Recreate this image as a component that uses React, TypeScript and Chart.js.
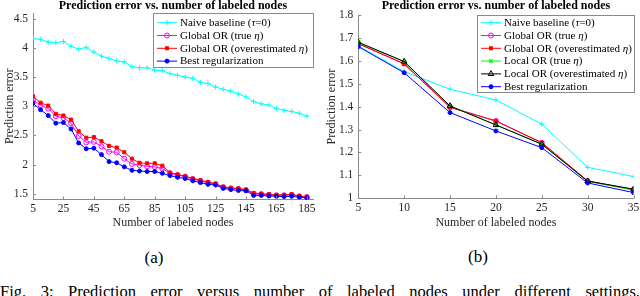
import React, { useEffect, useRef } from "react";
import { Chart, registerables } from "chart.js";
import { drawPoint } from "chart.js/helpers";

Chart.register(...registerables);

const FONT = '"Liberation Serif", "Times New Roman", serif';
const TITLE = "Prediction error vs. number of labeled nodes";
const X_TITLE = "Number of labeled nodes";
const Y_TITLE = "Prediction error";
const CAPTION = "Fig. 3: Prediction error versus number of labeled nodes under different settings.";

const LABEL_NAIVE = "Naive baseline (τ=0)";
const LABEL_GLOBAL_TRUE = "Global OR (true η)";
const LABEL_GLOBAL_OVER = "Global OR (overestimated η)";
const LABEL_LOCAL_TRUE = "Local OR (true η)";
const LABEL_LOCAL_OVER = "Local OR (overestimated η)";
const LABEL_BEST = "Best regularization";

// ---------- panel (a) ----------
const NODES_A = [5, 10, 15, 20, 25, 30, 35, 40, 45, 50, 55, 60, 65, 70, 75, 80, 85, 90, 95, 100, 105, 110, 115, 120, 125, 130, 135, 140, 145, 150, 155, 160, 165, 170, 175, 180, 185];
const NAIVE_A = [4.16, 4.15, 4.10, 4.09, 4.11, 4.03, 3.98, 4.01, 3.93, 3.86, 3.82, 3.78, 3.76, 3.68, 3.66, 3.66, 3.62, 3.61, 3.56, 3.53, 3.50, 3.48, 3.41, 3.39, 3.33, 3.29, 3.26, 3.21, 3.16, 3.08, 3.04, 3.02, 2.96, 2.93, 2.91, 2.88, 2.83];
const GLOBAL_TRUE_A = [3.11, 3.02, 2.96, 2.83, 2.80, 2.71, 2.49, 2.38, 2.39, 2.31, 2.22, 2.21, 2.10, 2.01, 1.99, 1.97, 1.96, 1.93, 1.85, 1.82, 1.79, 1.75, 1.72, 1.69, 1.665, 1.61, 1.59, 1.58, 1.56, 1.50, 1.49, 1.48, 1.47, 1.47, 1.48, 1.455, 1.44];
const GLOBAL_OVER_A = [3.17, 3.06, 3.01, 2.87, 2.84, 2.77, 2.57, 2.46, 2.47, 2.40, 2.32, 2.29, 2.21, 2.10, 2.03, 2.02, 2.02, 1.98, 1.86, 1.83, 1.80, 1.76, 1.73, 1.70, 1.67, 1.62, 1.60, 1.59, 1.57, 1.51, 1.50, 1.49, 1.48, 1.48, 1.49, 1.46, 1.45];
const BEST_A = [3.05, 2.94, 2.84, 2.71, 2.72, 2.61, 2.37, 2.27, 2.28, 2.17, 2.05, 2.03, 1.96, 1.90, 1.89, 1.88, 1.88, 1.85, 1.81, 1.78, 1.76, 1.72, 1.69, 1.66, 1.65, 1.59, 1.57, 1.555, 1.55, 1.47, 1.47, 1.46, 1.455, 1.45, 1.455, 1.44, 1.425];
const X_TICKS_A = [5, 25, 45, 65, 85, 105, 125, 145, 165, 185];
const Y_TICKS_A = [1.5, 2, 2.5, 3, 3.5, 4, 4.5];
const Y_TICK_LABELS_A = ["1.5", "2", "2.5", "3", "3.5", "4", "4.5"];

// ---------- panel (b) ----------
const NODES_B = [5, 10, 15, 20, 25, 30, 35];
const NAIVE_B = [1.665, 1.553, 1.476, 1.429, 1.324, 1.135, 1.095];
const GLOBAL_TRUE_B = [1.675, 1.588, 1.398, 1.337, 1.242, 1.075, 1.037];
const GLOBAL_OVER_B = [1.675, 1.586, 1.397, 1.338, 1.243, 1.076, 1.038];
const LOCAL_TRUE_B = [1.68, 1.596, 1.403, 1.321, 1.237, 1.074, 1.036];
const LOCAL_OVER_B = [1.681, 1.597, 1.403, 1.32, 1.236, 1.075, 1.04];
const BEST_B = [1.662, 1.548, 1.374, 1.294, 1.221, 1.067, 1.025];
const X_TICKS_B = [5, 10, 15, 20, 25, 30, 35];
const Y_TICKS_B = [1, 1.1, 1.2, 1.3, 1.4, 1.5, 1.6, 1.7, 1.8];
const Y_TICK_LABELS_B = ["1", "1.1", "1.2", "1.3", "1.4", "1.5", "1.6", "1.7", "1.8"];

// ---------- styles ----------
type St = { color: string; pointStyle: string; radius: number; filled: boolean };
const ST_NAIVE: St = { color: "#00ffff", pointStyle: "cross", radius: 2.6, filled: false };
const ST_GLOBAL_TRUE: St = { color: "#ff00ff", pointStyle: "circle", radius: 2.5, filled: false };
const ST_GLOBAL_OVER: St = { color: "#ff0000", pointStyle: "rect", radius: 2.2, filled: true };
const ST_LOCAL_TRUE: St = { color: "#00ff00", pointStyle: "star", radius: 2.6, filled: false };
const ST_LOCAL_OVER: St = { color: "#000000", pointStyle: "triangle", radius: 3.2, filled: false };
const ST_BEST: St = { color: "#0000ff", pointStyle: "circle", radius: 2.0, filled: true };

const AXIS_COLOR = "#8a8a8a";
const TEXT_COLOR = "#262626";
const LEGEND_FONT_SIZE = 11;

function makeDataset(label: string, xs: number[], ys: number[], st: St, order: number) {
  return {
    label,
    data: xs.map((x, i) => ({ x, y: ys[i] })),
    borderColor: st.color,
    backgroundColor: st.filled ? st.color : "rgba(0,0,0,0)",
    pointBorderColor: st.color,
    pointBackgroundColor: st.filled ? st.color : "rgba(0,0,0,0)",
    pointStyle: st.pointStyle,
    pointRadius: st.radius,
    pointHoverRadius: st.radius,
    pointBorderWidth: 1,
    borderWidth: 1,
    tension: 0,
    fill: false,
    order,
    _st: st,
  };
}

function drawRich(ctx: CanvasRenderingContext2D, text: string, x: number, y: number, size: number) {
  const parts = text.split(/([τη])/);
  let cx = x;
  for (const p of parts) {
    if (!p) continue;
    const it = /[τη]/.test(p);
    ctx.font = `${it ? "italic " : ""}${size}px ${FONT}`;
    ctx.fillText(p, cx, y);
    cx += ctx.measureText(p).width;
  }
}

const boxLegendPlugin = {
  id: "boxLegend",
  afterDraw(chart: any, _args: any, opts: any) {
    const { ctx } = chart;
    const [x0, y0, x1, y1] = opts.box;
    ctx.save();
    ctx.fillStyle = "#ffffff";
    ctx.fillRect(x0, y0, x1 - x0, y1 - y0);
    ctx.strokeStyle = AXIS_COLOR;
    ctx.lineWidth = 1;
    ctx.strokeRect(Math.round(x0) + 0.5, Math.round(y0) + 0.5, Math.round(x1 - x0), Math.round(y1 - y0));
    chart.data.datasets.forEach((d: any, i: number) => {
      const y = opts.firstRow + i * opts.rowH;
      const st: St = d._st;
      ctx.strokeStyle = st.color;
      ctx.lineWidth = 1;
      ctx.beginPath();
      ctx.moveTo(x0 + 4, y);
      ctx.lineTo(x0 + 24, y);
      ctx.stroke();
      ctx.fillStyle = st.filled ? st.color : "rgba(0,0,0,0)";
      ctx.strokeStyle = st.color;
      drawPoint(ctx, { pointStyle: st.pointStyle, radius: st.radius, rotation: 0, borderWidth: 1 } as any, x0 + 14, y);
      ctx.fillStyle = "#000000";
      ctx.textBaseline = "middle";
      ctx.textAlign = "left";
      drawRich(ctx, d.label, x0 + 27, y + 0.5, LEGEND_FONT_SIZE);
    });
    ctx.restore();
  },
};

const inTicksPlugin = {
  id: "inTicks",
  afterDraw(chart: any) {
    const { ctx, chartArea, scales } = chart;
    ctx.save();
    ctx.strokeStyle = AXIS_COLOR;
    ctx.lineWidth = 1;
    scales.x.ticks.forEach((t: any) => {
      const x = Math.round(scales.x.getPixelForValue(t.value)) + 0.5;
      ctx.beginPath();
      ctx.moveTo(x, chartArea.bottom);
      ctx.lineTo(x, chartArea.bottom - 3);
      ctx.stroke();
    });
    scales.y.ticks.forEach((t: any) => {
      const y = Math.round(scales.y.getPixelForValue(t.value)) + 0.5;
      ctx.beginPath();
      ctx.moveTo(chartArea.left, y);
      ctx.lineTo(chartArea.left + 3, y);
      ctx.stroke();
    });
    ctx.restore();
  },
};

type Panel = {
  datasets: any[];
  xMin: number;
  xMax: number;
  yMin: number;
  yMax: number;
  xTicks: number[];
  yTicks: number[];
  yLabels: string[];
  yWidth: number;
  xHeight: number;
  padRight: number;
  titleGap: number;
  yTitlePad: number;
  legend: { box: number[]; firstRow: number; rowH: number };
};

function makeConfig(p: Panel): any {
  return {
    type: "line",
    data: { datasets: p.datasets },
    plugins: [inTicksPlugin, boxLegendPlugin],
    options: {
      responsive: false,
      animation: false,
      devicePixelRatio: 1,
      layout: { padding: { left: 0, right: p.padRight, top: 0, bottom: 0 } },
      plugins: {
        legend: { display: false },
        tooltip: { enabled: false },
        title: {
          display: true,
          text: TITLE,
          fullSize: false,
          color: "#000000",
          font: { family: FONT, size: 12, weight: "bold", lineHeight: 1 },
          padding: { top: 0, bottom: p.titleGap },
        },
        boxLegend: p.legend,
      },
      scales: {
        x: {
          type: "linear",
          min: p.xMin,
          max: p.xMax,
          afterBuildTicks: (s: any) => {
            s.ticks = p.xTicks.map((v) => ({ value: v }));
          },
          afterFit: (s: any) => {
            s.height = p.xHeight;
            s.paddingLeft = 0;
            s.paddingRight = 0;
          },
          grid: { display: false, drawTicks: false },
          border: { display: true, color: AXIS_COLOR, width: 1 },
          ticks: {
            color: TEXT_COLOR,
            font: { family: FONT, size: 11.5 },
            padding: 3,
            maxRotation: 0,
            autoSkip: false,
            callback: (v: any) => String(v),
          },
          title: {
            display: true,
            text: X_TITLE,
            color: TEXT_COLOR,
            font: { family: FONT, size: 12, lineHeight: 1.2 },
            padding: { top: 0, bottom: 0 },
          },
        },
        y: {
          type: "linear",
          min: p.yMin,
          max: p.yMax,
          afterBuildTicks: (s: any) => {
            s.ticks = p.yTicks.map((v) => ({ value: v }));
          },
          afterFit: (s: any) => {
            s.width = p.yWidth;
            s.paddingTop = 0;
            s.paddingBottom = 0;
          },
          grid: { display: false, drawTicks: false },
          border: { display: true, color: AXIS_COLOR, width: 1 },
          ticks: {
            color: TEXT_COLOR,
            font: { family: FONT, size: 11.5 },
            padding: 5,
            autoSkip: false,
            callback: (_v: any, i: number) => p.yLabels[i],
          },
          title: {
            display: true,
            text: Y_TITLE,
            color: TEXT_COLOR,
            font: { family: FONT, size: 12, lineHeight: 1.2 },
            padding: { top: p.yTitlePad, bottom: 0 },
          },
        },
      },
    },
  };
}

function ChartCanvas({ build, left }: { build: () => any; left: number }) {
  const ref = useRef<HTMLCanvasElement | null>(null);
  useEffect(() => {
    const chart = new Chart(ref.current as HTMLCanvasElement, build());
    return () => chart.destroy();
  }, []);
  return (
    <canvas
      ref={ref}
      width={320}
      height={230}
      style={{ position: "absolute", left, top: 0, width: 320, height: 230 }}
    />
  );
}

function buildA() {
  const ds = [
    makeDataset(LABEL_NAIVE, NODES_A, NAIVE_A, ST_NAIVE, 3),
    makeDataset(LABEL_GLOBAL_TRUE, NODES_A, GLOBAL_TRUE_A, ST_GLOBAL_TRUE, 2),
    makeDataset(LABEL_GLOBAL_OVER, NODES_A, GLOBAL_OVER_A, ST_GLOBAL_OVER, 1),
    makeDataset(LABEL_BEST, NODES_A, BEST_A, ST_BEST, 0),
  ];
  return makeConfig({
    datasets: ds,
    xMin: 5,
    xMax: 189,
    yMin: 1.4,
    yMax: 4.6,
    xTicks: X_TICKS_A,
    yTicks: Y_TICKS_A,
    yLabels: Y_TICK_LABELS_A,
    yWidth: 33,
    xHeight: 30.5,
    padRight: 7,
    titleGap: 1,
    yTitlePad: 3,
    legend: { box: [153, 13, 313, 67], firstRow: 22.7, rowH: 12.8 },
  });
}

function buildB() {
  const ds = [
    makeDataset(LABEL_NAIVE, NODES_B, NAIVE_B, ST_NAIVE, 5),
    makeDataset(LABEL_GLOBAL_TRUE, NODES_B, GLOBAL_TRUE_B, ST_GLOBAL_TRUE, 4),
    makeDataset(LABEL_GLOBAL_OVER, NODES_B, GLOBAL_OVER_B, ST_GLOBAL_OVER, 3),
    makeDataset(LABEL_LOCAL_TRUE, NODES_B, LOCAL_TRUE_B, ST_LOCAL_TRUE, 2),
    makeDataset(LABEL_LOCAL_OVER, NODES_B, LOCAL_OVER_B, ST_LOCAL_OVER, 1),
    makeDataset(LABEL_BEST, NODES_B, BEST_B, ST_BEST, 0),
  ];
  return makeConfig({
    datasets: ds,
    xMin: 5,
    xMax: 35,
    yMin: 1,
    yMax: 1.8,
    xTicks: X_TICKS_B,
    yTicks: Y_TICKS_B,
    yLabels: Y_TICK_LABELS_B,
    yWidth: 38.3,
    xHeight: 31.7,
    padRight: 6.5,
    titleGap: 3,
    yTitlePad: 5,
    legend: { box: [157, 15, 313.5, 92], firstRow: 22.7, rowH: 12.8 },
  });
}

export default function App() {
  const textBase: React.CSSProperties = {
    position: "absolute",
    fontFamily: FONT,
    color: "#000",
    whiteSpace: "nowrap",
  };
  return (
    <div
      style={{
        position: "absolute",
        left: 0,
        top: 0,
        width: 640,
        height: 296,
        overflow: "hidden",
        background: "#fff",
      }}
    >
      <ChartCanvas build={buildA} left={0} />
      <ChartCanvas build={buildB} left={320} />
      <div style={{ ...textBase, left: 104, width: 100, top: 248, fontSize: 17, lineHeight: "20px", textAlign: "center" }}>
        (a)
      </div>
      <div style={{ ...textBase, left: 428, width: 100, top: 247, fontSize: 17, lineHeight: "20px", textAlign: "center" }}>
        (b)
      </div>
      <div
        style={{
          ...textBase,
          left: 0,
          top: 283,
          width: 640,
          fontSize: 16.5,
          lineHeight: "17px",
          textAlign: "justify",
          textAlignLast: "justify" as any,
          whiteSpace: "normal",
        }}
      >
        {CAPTION}
      </div>
    </div>
  );
}
